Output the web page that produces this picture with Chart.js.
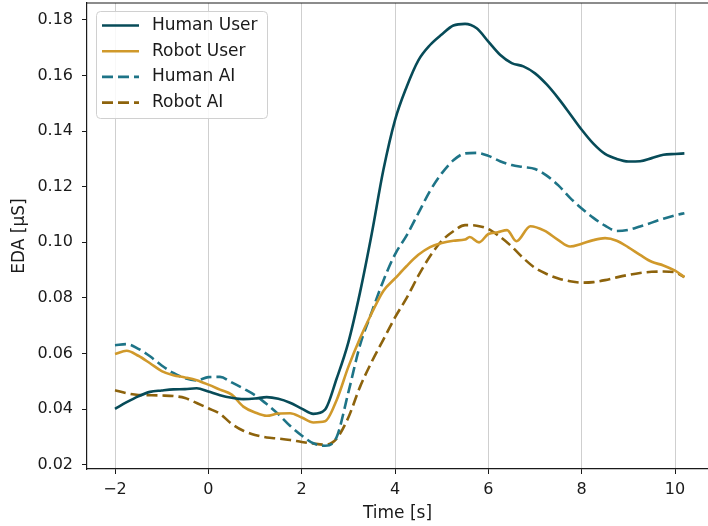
<!DOCTYPE html>
<html>
<head>
<meta charset="utf-8">
<script src="https://cdn.jsdelivr.net/npm/chart.js@4.4.1/dist/chart.umd.min.js"></script>
<style>
  html, body { margin: 0; padding: 0; background: #fff; }
  canvas { display: block; }
</style>
</head>
<body>
<canvas id="eda-chart" width="708" height="526"></canvas>
<script>
// time grid (s) shared by three of the curves
const time = [-2, -1.75, -1.5, -1.25, -1, -0.75, -0.5, -0.25, 0, 0.25, 0.5, 0.75, 1, 1.25, 1.5, 1.75,
    2, 2.25, 2.5, 2.75, 3, 3.25, 3.5, 3.75, 4, 4.25, 4.5, 4.75, 5, 5.25, 5.5, 5.75,
    6, 6.25, 6.5, 6.75, 7, 7.25, 7.5, 7.75, 8, 8.25, 8.5, 8.75, 9, 9.25, 9.5, 9.75, 10, 10.2];

const humanUser = [0.0401, 0.0425, 0.0446, 0.0462, 0.0467, 0.0471, 0.0472, 0.0475, 0.0463, 0.0450, 0.0441, 0.0436, 0.0438, 0.0443, 0.0437, 0.0423,
    0.0402, 0.0383, 0.0398, 0.0510, 0.0640, 0.0820, 0.1030, 0.1260, 0.1440, 0.1560, 0.1655, 0.1710, 0.1748, 0.1780, 0.1786, 0.1770,
    0.1722, 0.1675, 0.1645, 0.1633, 0.1608, 0.1568, 0.1518, 0.1462, 0.1405, 0.1355, 0.1318, 0.1300, 0.1291, 0.1292, 0.1303, 0.1315, 0.1318, 0.1320];

const humanAI = [0.0630, 0.0634, 0.0617, 0.0590, 0.0557, 0.0530, 0.0511, 0.0503, 0.0515, 0.0516, 0.0496, 0.0474, 0.0450, 0.0418, 0.0382, 0.0340,
    0.0305, 0.0277, 0.0268, 0.0300, 0.0460, 0.0630, 0.0749, 0.0862, 0.0957, 0.1025, 0.1105, 0.1185, 0.1248, 0.1295, 0.1320, 0.1322,
    0.1311, 0.1292, 0.1278, 0.1271, 0.1264, 0.1240, 0.1205, 0.1160, 0.1122, 0.1088, 0.1060, 0.1041, 0.1045, 0.1057, 0.1071, 0.1085, 0.1097, 0.1105];

const robotAI = [0.0468, 0.0457, 0.0451, 0.0450, 0.0449, 0.0447, 0.0440, 0.0422, 0.0403, 0.0383, 0.0347, 0.0322, 0.0307, 0.0298, 0.0294, 0.0289,
    0.0282, 0.0276, 0.0272, 0.0294, 0.0370, 0.0480, 0.0570, 0.0650, 0.0730, 0.0800, 0.0880, 0.0950, 0.1005, 0.1040, 0.1062, 0.1060,
    0.1048, 0.1020, 0.0985, 0.0943, 0.0908, 0.0886, 0.0870, 0.0860, 0.0855, 0.0857, 0.0864, 0.0874, 0.0883, 0.0890, 0.0894, 0.0895, 0.0892, 0.0875];

// the robot-user curve has small ripples after the peak, so it gets a denser grid there
const robotUserTime = [-2, -1.75, -1.5, -1.25, -1, -0.75, -0.5, -0.25, 0, 0.25, 0.5, 0.75, 1, 1.25, 1.5, 1.75,
    2, 2.25, 2.5, 2.75, 3, 3.25, 3.5, 3.75, 4, 4.25, 4.5, 4.75, 5, 5.25, 5.5, 5.6, 5.8,
    6, 6.2, 6.4, 6.6, 6.9, 7.2, 7.5, 7.75, 8, 8.25, 8.5, 8.75, 9, 9.25, 9.5, 9.75, 10, 10.2];
const robotUser = [0.0598, 0.0610, 0.0592, 0.0565, 0.0537, 0.0522, 0.0514, 0.0504, 0.0488, 0.0470, 0.0452, 0.0409, 0.0388, 0.0376, 0.0384, 0.0385,
    0.0370, 0.0352, 0.0356, 0.0433, 0.0552, 0.0655, 0.0745, 0.0825, 0.0870, 0.0915, 0.0955, 0.0983, 0.0998, 0.1006, 0.1010, 0.1019, 0.1000,
    0.1030, 0.1036, 0.1044, 0.1004, 0.1058, 0.1042, 0.1008, 0.0985, 0.0995, 0.1008, 0.1015, 0.1006, 0.0982, 0.0955, 0.0930, 0.0917, 0.0898, 0.0875];

const xTicks = [-2, 0, 2, 4, 6, 8, 10];
const yTicks = [0.02, 0.04, 0.06, 0.08, 0.10, 0.12, 0.14, 0.16, 0.18];

const INK = "#1a1a1a";
const FONT = "'DejaVu Sans', sans-serif";

function toPoints(xs, ys) {
    return xs.map((x, i) => ({ x: x, y: ys[i] }));
}

function series(label, xs, ys, color, dash) {
    return {
        label: label,
        data: toPoints(xs, ys),
        borderColor: color,
        borderWidth: 2.6,
        borderDash: dash,
        pointRadius: 0,
        fill: false,
        cubicInterpolationMode: "monotone"
    };
}

// boxed legend in the upper-left corner of the plot
const legendBox = {
    id: "legendBox",
    afterDatasetsDraw(chart) {
        const { ctx, chartArea } = chart;
        const x0 = chartArea.left + 9, y0 = chartArea.top + 8;
        ctx.save();
        ctx.fillStyle = "rgba(255,255,255,0.85)";
        ctx.strokeStyle = "#d0d0d0";
        ctx.lineWidth = 1;
        ctx.beginPath();
        ctx.roundRect(x0 + 0.5, y0 + 0.5, 171, 107, 4);
        ctx.fill();
        ctx.stroke();
        ctx.font = "17px " + FONT;
        ctx.textBaseline = "middle";
        chart.data.datasets.forEach((ds, i) => {
            const y = y0 + 14.5 + i * 25.7;
            ctx.strokeStyle = ds.borderColor;
            ctx.lineWidth = ds.borderWidth;
            ctx.setLineDash(ds.borderDash || []);
            ctx.beginPath();
            ctx.moveTo(x0 + 6, y);
            ctx.lineTo(x0 + 43, y);
            ctx.stroke();
            ctx.setLineDash([]);
            ctx.fillStyle = INK;
            ctx.fillText(ds.label, x0 + 56, y);
        });
        ctx.restore();
    }
};

// top spine of the axes frame
const topSpine = {
    id: "topSpine",
    afterDraw(chart) {
        const { ctx, chartArea } = chart;
        ctx.save();
        ctx.strokeStyle = INK;
        ctx.lineWidth = 1.2;
        ctx.beginPath();
        ctx.moveTo(chartArea.left, chartArea.top);
        ctx.lineTo(chartArea.right, chartArea.top);
        ctx.stroke();
        ctx.restore();
    }
};

const ctx = document.getElementById("eda-chart").getContext("2d");

new Chart(ctx, {
    type: "line",
    data: {
        datasets: [
            series("Human User", time, humanUser, "#074b58", []),
            series("Robot User", robotUserTime, robotUser, "#d0992b", []),
            series("Human AI", time, humanAI, "#1e7487", [11, 5]),
            series("Robot AI", time, robotAI, "#8d630c", [11, 5])
        ]
    },
    options: {
        responsive: false,
        animation: false,
        devicePixelRatio: 1,
        layout: { padding: { top: 3, right: 0, bottom: 0, left: 0 } },
        plugins: {
            legend: { display: false },
            tooltip: { enabled: false }
        },
        scales: {
            x: {
                type: "linear",
                min: -2.6,
                max: 10.706,
                afterFit: (s) => { s.height = 57; s.paddingLeft = 0; s.paddingRight = 0; },
                afterBuildTicks: (s) => { s.ticks = xTicks.map(v => ({ value: v })); },
                grid: { color: "#cfcfcf", lineWidth: 1, tickLength: 5, tickColor: INK },
                border: { display: true, color: INK, width: 1.2 },
                ticks: {
                    color: INK,
                    font: { family: FONT, size: 16 },
                    padding: 6,
                    maxRotation: 0,
                    callback: (v) => (v < 0 ? "\u2212" + Math.abs(v) : String(v))
                },
                title: {
                    display: true,
                    text: "Time [s]",
                    color: INK,
                    font: { family: FONT, size: 17 },
                    padding: { top: 0, bottom: 2 }
                }
            },
            y: {
                min: 0.018454,
                max: 0.18611,
                afterFit: (s) => { s.width = 87; s.paddingTop = 0; s.paddingBottom = 0; },
                afterBuildTicks: (s) => { s.ticks = yTicks.map(v => ({ value: v })); },
                grid: { drawOnChartArea: false, drawTicks: true, tickLength: 5, tickColor: INK },
                border: { display: true, color: INK, width: 1.2 },
                ticks: {
                    color: INK,
                    font: { family: FONT, size: 16 },
                    padding: 9,
                    callback: (v) => v.toFixed(2)
                },
                title: {
                    display: true,
                    text: "EDA [μS]",
                    color: INK,
                    font: { family: FONT, size: 17 },
                    padding: { top: 9, bottom: 0 }
                }
            }
        }
    },
    plugins: [legendBox, topSpine]
});
</script>
</body>
</html>
